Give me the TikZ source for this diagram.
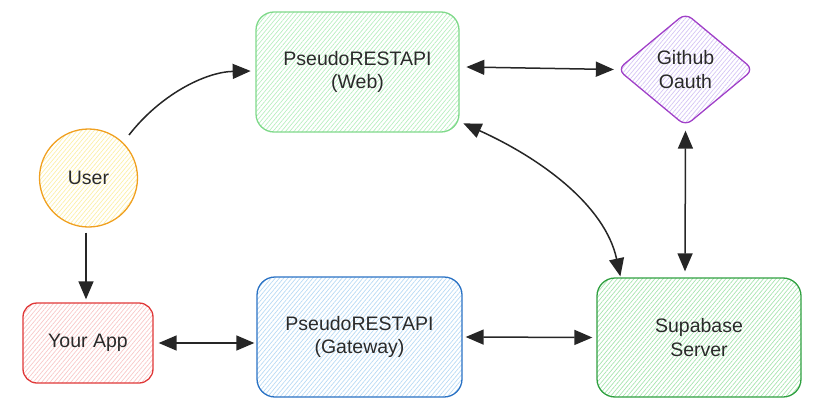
\documentclass[tikz,border=0pt]{standalone}
\usepackage{fontspec}
\setmainfont{Liberation Sans}
\usetikzlibrary{arrows.meta,patterns.meta,shapes.geometric}
\definecolor{txt}{HTML}{2A2A2A}
\definecolor{webS}{HTML}{7FD98A}\definecolor{webF}{HTML}{B8EEC0}
\definecolor{ghS}{HTML}{A040C8}\definecolor{ghF}{HTML}{D4C4F4}
\definecolor{usS}{HTML}{F0A020}\definecolor{usF}{HTML}{FCEFA8}
\definecolor{apS}{HTML}{E03838}\definecolor{apF}{HTML}{F8C8C8}
\definecolor{gwS}{HTML}{2A72C4}\definecolor{gwF}{HTML}{B8DAF4}
\definecolor{sbS}{HTML}{2FA040}\definecolor{sbF}{HTML}{A8E4B0}
\tikzset{
  box/.style={draw, line width=1.3pt, rounded corners=18pt, text=txt, align=center,
    font=\fontsize{19.5}{23.5}\selectfont, inner sep=0pt},
  hatch/.style={pattern={Lines[angle=50,distance=3.2pt,line width=0.7pt]}, pattern color=#1},
  conn/.style={draw=black!85, line width=1.5pt, -{Triangle[length=18pt,width=15pt]}},
  dconn/.style={draw=black!85, line width=1.5pt, {Triangle[length=18pt,width=15pt]}-{Triangle[length=18pt,width=15pt]}},
}
\begin{document}
\begin{tikzpicture}[x=1pt,y=-1pt]
\useasboundingbox (0,0) rectangle (824,412);
\node[box, draw=webS, hatch=webF, minimum width=203pt, minimum height=120pt] (web) at (357.5,72) {PseudoRESTAPI\\(Web)};
\node[box, draw=ghS, hatch=ghF, diamond, rounded corners=8pt, minimum width=136pt, minimum height=113pt] (gh) at (685.5,69.5) {Github\\Oauth};
\node[box, draw=usS, hatch=usF, circle, minimum size=98pt] (user) at (88.5,178) {User};
\node[box, draw=apS, hatch=apF, rounded corners=14pt, minimum width=130pt, minimum height=80pt] (app) at (88,343) {Your App};
\node[box, draw=gwS, hatch=gwF, minimum width=205pt, minimum height=120pt] (gw) at (359.5,337) {PseudoRESTAPI\\(Gateway)};
\node[box, draw=sbS, hatch=sbF, minimum width=204pt, minimum height=119pt] (sb) at (699,337.5) {Supabase\\Server};
\coordinate (u1) at (129,135);
\draw[conn] (u1) .. controls (160,95) and (205,72) .. ([xshift=-5pt,yshift=1pt]web.west);
\draw[dconn] ([xshift=7pt,yshift=5pt]web.east) -- ([xshift=-3pt]gh.west);
\draw[dconn] ([xshift=4pt,yshift=9pt]web.south east) .. controls (540,158) and (605,205) .. ([xshift=24pt,yshift=1pt]sb.north west);
\draw[dconn] ([yshift=-4pt]gh.south) -- ([xshift=-14pt,yshift=6pt]sb.north);
\draw[conn] ([xshift=-2.5pt,yshift=-5pt]user.south) -- ([xshift=-2pt,yshift=3pt]app.north);
\draw[dconn] ([xshift=5pt]app.east) -- ([xshift=-2pt,yshift=-6pt]gw.west);
\draw[dconn] ([xshift=3pt]gw.east) -- ([xshift=-4pt]sb.west);
\end{tikzpicture}
\end{document}
